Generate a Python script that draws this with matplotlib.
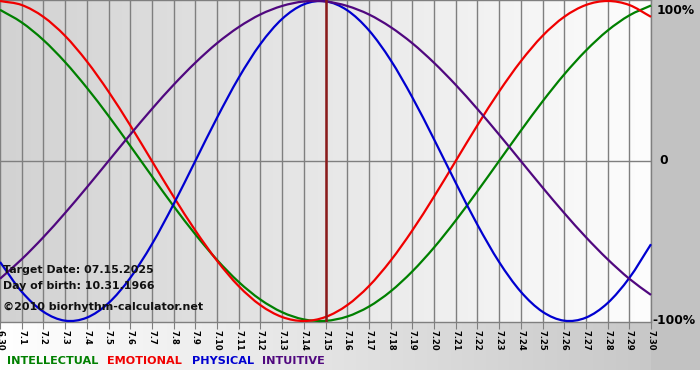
import numpy as np
import matplotlib
matplotlib.use("Agg")
import matplotlib.pyplot as plt
from matplotlib.colors import LinearSegmentedColormap
from matplotlib.path import Path
from matplotlib.patches import PathPatch
import matplotlib.transforms as mtransforms

# ---- data (fraction of 100%) ----
dates = ["6.30", "7.1", "7.2", "7.3", "7.4", "7.5", "7.6", "7.7", "7.8", "7.9", "7.10",
         "7.11", "7.12", "7.13", "7.14", "7.15", "7.16", "7.17", "7.18", "7.19", "7.20",
         "7.21", "7.22", "7.23", "7.24", "7.25", "7.26", "7.27", "7.28", "7.29", "7.30"]

physical = [-0.631, -0.817, -0.942, -0.998, -0.979, -0.888, -0.731, -0.520, -0.270, 0.000,
            0.270, 0.520, 0.731, 0.888, 0.979, 0.998, 0.942, 0.817, 0.631, 0.398, 0.136,
            -0.136, -0.398, -0.631, -0.817, -0.942, -0.998, -0.979, -0.888, -0.731, -0.520]

emotional = [1.000, 0.975, 0.901, 0.782, 0.623, 0.434, 0.223, 0.000, -0.223, -0.434,
             -0.623, -0.782, -0.901, -0.975, -1.000, -0.975, -0.901, -0.782, -0.623, -0.434,
             -0.223, 0.000, 0.223, 0.434, 0.623, 0.782, 0.901, 0.975, 1.000, 0.975, 0.901]

intellectual = [0.945, 0.866, 0.756, 0.618, 0.458, 0.282, 0.095, -0.095, -0.282, -0.458,
                -0.618, -0.756, -0.866, -0.945, -0.990, -0.999, -0.972, -0.910, -0.815,
                -0.690, -0.541, -0.372, -0.189, 0.000, 0.189, 0.372, 0.541, 0.690, 0.815,
                0.910, 0.972]

intuitive = [-0.736, -0.614, -0.476, -0.325, -0.165, 0.000, 0.165, 0.325, 0.476, 0.614,
             0.736, 0.837, 0.916, 0.969, 0.997, 0.997, 0.969, 0.916, 0.837, 0.736, 0.614,
             0.476, 0.325, 0.165, 0.000, -0.165, -0.325, -0.476, -0.614, -0.736, -0.837]

target_index = 15
y_ticks = [1, 0, -1]
y_labels = ["100%", "0", "-100%"]
legend_names = ["INTELLECTUAL", "EMOTIONAL", "PHYSICAL", "INTUITIVE"]
info_lines = ["Target Date: 07.15.2025", "Day of birth: 10.31.1966"]
copyright_text = "\u00a92010 biorhythm-calculator.net"

# ---- styles ----
C_INT = "#008000"
C_EMO = "#f00000"
C_PHY = "#0000d0"
C_ITU = "#50087f"
GRID = "#7f7f7f"

W, H = 700, 380
fig = plt.figure(figsize=(7, 3.8), dpi=100)
fig.patch.set_facecolor("white")

# background axes (pixel coordinates)
bg = fig.add_axes([0, 0, 1, 1])
bg.set_xlim(0, W)
bg.set_ylim(H, 0)
bg.axis("off")
bottom_cmap = LinearSegmentedColormap.from_list("b", ["#ffffff", "#c4c4c4"])
grad = np.linspace(0, 1, 256)[None, :]
bg.imshow(grad, cmap=bottom_cmap, extent=(0, W, 370, 321), aspect="auto", zorder=0)
bg.add_patch(plt.Rectangle((651, 0), W - 651, 370, color="#c2c2c2", zorder=1, lw=0))

# main axes: x 0..651 px, y 0..322 px
ax = fig.add_axes([0, 1 - 322 / H, 651 / W, 322 / H])
ax.set_facecolor("none")
ypad = 1 / 160
ax.set_xlim(0, len(dates) - 1)
ax.set_ylim(-1 - ypad, 1 + ypad)

plot_cmap = LinearSegmentedColormap.from_list("p", ["#d2d2d2", "#fdfdfd"])
ax.imshow(grad, cmap=plot_cmap, extent=(0, len(dates) - 1, -1 - ypad, 1 + ypad),
          aspect="auto", zorder=0)

x = np.arange(len(dates))
for xi in x:
    ax.axvline(xi, color=GRID, lw=1.0, zorder=1)
ax.axhline(0, color=GRID, lw=1.0, zorder=1)


def smooth_path(xs, ys):
    """Catmull-Rom curve through the data points, drawn as cubic Bezier segments."""
    pts = np.column_stack([np.asarray(xs, float), np.asarray(ys, float)])
    n = len(pts)
    verts = [pts[0]]
    codes = [Path.MOVETO]
    for i in range(n - 1):
        p0 = pts[i - 1] if i > 0 else 2 * pts[0] - pts[1]
        p1 = pts[i]
        p2 = pts[i + 1]
        p3 = pts[i + 2] if i + 2 < n else 2 * pts[-1] - pts[-2]
        verts += [p1 + (p2 - p0) / 6.0, p2 - (p3 - p1) / 6.0, p2]
        codes += [Path.CURVE4] * 3
    return Path(verts, codes)


for series, col in [(intellectual, C_INT), (emotional, C_EMO),
                    (physical, C_PHY), (intuitive, C_ITU)]:
    ax.add_patch(PathPatch(smooth_path(x, series), facecolor="none", edgecolor=col,
                           lw=1.6, zorder=3, clip_on=False))
ax.axvline(target_index, color="#8b1a1a", lw=1.8, zorder=4)

for side in ["top", "right", "bottom"]:
    ax.spines[side].set_color(GRID)
    ax.spines[side].set_linewidth(1.0)
ax.spines["left"].set_visible(False)

ax.set_xticks(x)
ax.set_xticklabels(dates, rotation=270, fontsize=6, fontweight="bold", family="DejaVu Sans")
ax.tick_params(axis="x", length=5, color=GRID, pad=1)
ax.set_yticks([])

trans = mtransforms.blended_transform_factory(fig.transFigure, ax.transData)
label_pos = {"100%": (657, 0.94), "0": (659, 0.0), "-100%": (652, -1.0)}
for v, lab in zip(y_ticks, y_labels):
    px, yv = label_pos[lab]
    ax.text(px / W, yv, lab, transform=trans, fontsize=8.8, fontweight="bold",
            ha="left", va="center", color="black", clip_on=False)

# info text
ty = [270, 286]
for t, yy in zip(info_lines, ty):
    fig.text(3 / W, 1 - yy / H, t, fontsize=7.9, fontweight="bold", ha="left",
             va="center", color="#111111")
fig.text(3 / W, 1 - 307 / H, copyright_text, fontsize=8.0, fontweight="bold",
         ha="left", va="center", color="#111111")

# legend text
lx = [7, 107, 192, 262]
for name, col, xx in zip(legend_names, [C_INT, C_EMO, C_PHY, C_ITU], lx):
    fig.text(xx / W, 1 - 361 / H, name, fontsize=8.1, fontweight="bold", color=col,
             ha="left", va="center")

fig.savefig("out.png", dpi=100)
